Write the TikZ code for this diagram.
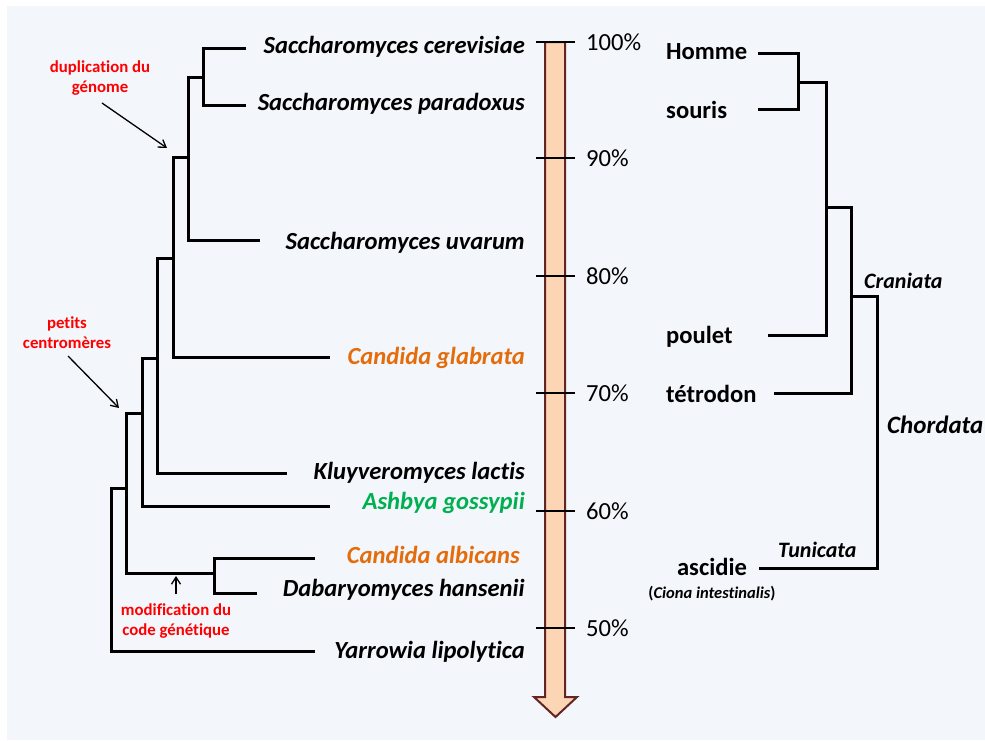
\documentclass[tikz,border=0pt]{standalone}
\usepackage{fontspec}
\setmainfont[Ligatures={NoCommon}]{Carlito}
\usetikzlibrary{arrows.meta}
\definecolor{bgc}{HTML}{F3F6FB}
\definecolor{orng}{HTML}{E46C0A}
\definecolor{grn}{HTML}{00B050}
\definecolor{brd}{HTML}{632523}
\definecolor{peach}{HTML}{FCD5B5}
\definecolor{annred}{HTML}{FF0000}
\begin{document}
\begin{tikzpicture}[x=1pt,y=-1pt,
  branch/.style={line width=3pt, line join=miter, line cap=butt},
  sp/.style={font=\fontsize{24.6}{29}\selectfont\bfseries\itshape, anchor=base east, inner sep=0pt},
  vn/.style={font=\fontsize{24.6}{29}\selectfont\bfseries, anchor=base west, inner sep=0pt},
  clade/.style={font=\fontsize{22}{26}\selectfont\bfseries\itshape, anchor=base west, inner sep=0pt},
  pct/.style={font=\fontsize{24.6}{29}\selectfont, anchor=base west, inner sep=0pt},
  ann/.style={font=\fontsize{16.8}{20}\selectfont\bfseries, text=annred, align=center, inner sep=0pt},
  annarrow/.style={line width=1.3pt, -{Straight Barb[length=7pt,width=9pt,line width=1.3pt]}},
  tickmark/.style={line width=2.5pt}
]
\useasboundingbox (0,0) rectangle (985,740);
\fill[bgc] (7,6) rectangle (985,740);

% ---------- time arrow ----------
\draw[fill=peach, draw=brd, line width=2pt, line join=miter]
  (545,42) -- (565,42) -- (565,697) -- (577,697) -- (555.5,717) -- (534,697) -- (545,697) -- cycle;
\foreach \yy/\lab in {42/100\%, 158/90\%, 276/80\%, 393/70\%, 511/60\%, 628/50\%}{
  \draw[tickmark] (536,\yy) -- (575,\yy);
  \node[pct] at (586,\yy+8) {\lab};
}

% ---------- species labels ----------
\node[sp] (tcer) at (525,53) {Saccharomyces cerevisiae};
\node[sp] (tpar) at (525,110) {Saccharomyces paradoxus};
\node[sp] (tuva) at (525,249) {Saccharomyces uvarum};
\node[sp, text=orng] (tgla) at (525,364) {Candida glabrata};
\node[sp] (tklu) at (525,479) {Kluyveromyces lactis};
\node[sp, text=grn] (tash) at (525,509) {Ashbya gossypii};
\node[sp, text=orng] (talb) at (520,563) {Candida albicans};
\node[sp] (than) at (525,596) {Dabaryomyces hansenii};
\node[sp] (tyar) at (525,658) {Yarrowia lipolytica};

% ---------- yeast tree ----------
\coordinate (cer) at (246,48);
\coordinate (par) at (246,105);
\coordinate (uva) at (260,240);
\coordinate (gla) at (330,357);
\coordinate (klu) at (287,473);
\coordinate (ash) at (330,506);
\coordinate (alb) at (315,558);
\coordinate (han) at (257,593);
\coordinate (yar) at (315,651);
\coordinate (A) at (203,77);
\coordinate (B) at (188,157);
\coordinate (C) at (173,258);
\coordinate (D) at (157,358);
\coordinate (E) at (142,413);
\coordinate (F) at (214,573);
\coordinate (G) at (126,488);
\coordinate (R) at (111,488);

\draw[branch] (cer) -- (cer -| A) -- (par -| A) -- (par);
\draw[branch] (A) -- (A -| B) -- (uva -| B) -- (uva);
\draw[branch] (B) -- (B -| C) -- (gla -| C) -- (gla);
\draw[branch] (C) -- (C -| D) -- (klu -| D) -- (klu);
\draw[branch] (D) -- (D -| E) -- (ash -| E) -- (ash);
\draw[branch] (alb) -- (alb -| F) -- (han -| F) -- (han);
\draw[branch] (E) -- (E -| G) -- (F -| G) -- (F);
\draw[branch] (G) -- (G -| R) -- (yar -| R) -- (yar);

% ---------- annotations ----------
\node[ann] (adup) at (100,78) {duplication du\\génome};
\coordinate (adupE) at (167,148);
\draw[annarrow] (102,103) -- (adupE);

\node[ann] (acen) at (67,333) {petits\\centromères};
\coordinate (acenE) at (119,408);
\draw[annarrow] (68,356) -- (acenE);

\node[ann] (acod) at (176,621) {modification du\\code génétique};
\coordinate (acodE) at (176,576);
\draw[annarrow] (176,594) -- (acodE);

% ---------- vertebrate tree ----------
\node[vn] (thom) at (666,59) {Homme};
\node[vn] (tsou) at (666,118) {souris};
\node[vn] (tpou) at (666,343) {poulet};
\node[vn] (ttet) at (666,402) {tétrodon};
\node[vn, anchor=base] (tasc) at (712,575) {ascidie};
\node[font=\fontsize{16.5}{20}\selectfont\bfseries, anchor=base, inner sep=0pt] (tcio) at (712,598) {(\textit{Ciona intestinalis})};

\coordinate (hom) at (758,53);
\coordinate (sou) at (758,109);
\coordinate (pou) at (768,335);
\coordinate (tet) at (774,393);
\coordinate (asc) at (759,568);
\coordinate (H1) at (798,82);
\coordinate (H2) at (826,207);
\coordinate (H3) at (851,296);
\coordinate (H4) at (877,296);

\draw[branch] (hom) -- (hom -| H1) -- (sou -| H1) -- (sou);
\draw[branch] (H1) -- (H1 -| H2) -- (pou -| H2) -- (pou);
\draw[branch] (H2) -- (H2 -| H3) -- (tet -| H3) -- (tet);
\draw[branch] (H3) -- (H3 -| H4) -- (asc -| H4) -- (asc);

\node[clade] (lcra) at (864,288) {Craniata};
\node[clade, font=\fontsize{25}{29}\selectfont\bfseries\itshape] (lcho) at (887,433) {Chordata};
\node[clade] (ltun) at (778,557) {Tunicata};
\end{tikzpicture}
\end{document}
